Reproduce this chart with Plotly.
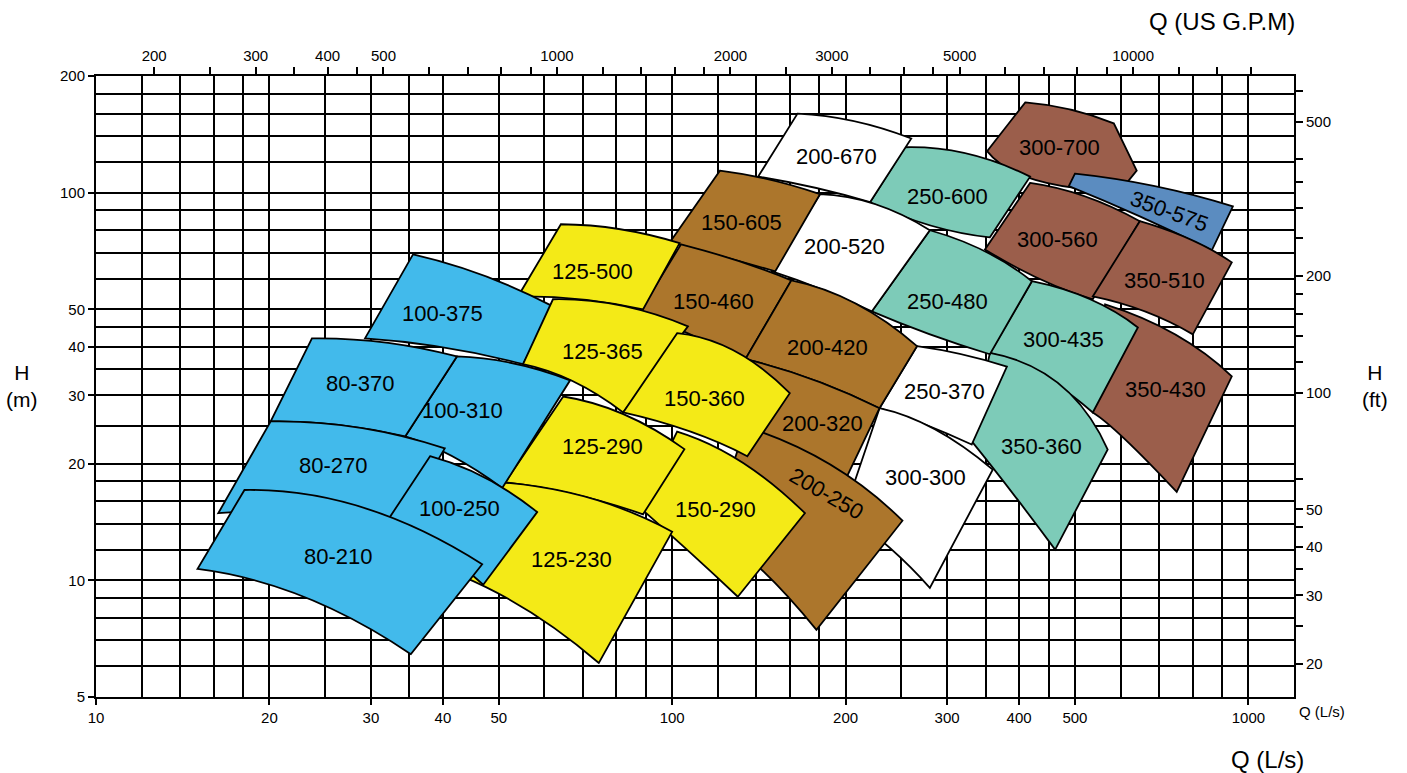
import math
import plotly.graph_objects as go

# ---------------- axis data ----------------
Q_MIN, Q_MAX = 10, 1200          # L/s
H_MIN, H_MAX = 5, 200            # m
LPS_TO_GPM = 15.8503
M_TO_FT = 3.28084

Q_MAJOR = [10, 20, 30, 40, 50, 100, 200, 300, 400, 500, 1000]
Q_MINOR = [12, 14, 16, 18, 25, 35, 60, 70, 80, 90, 120, 140, 160, 180,
           250, 350, 450, 600, 700, 800, 900]
H_MAJOR = [5, 10, 20, 30, 40, 50, 100, 200]
H_MINOR = [6, 7, 8, 9, 12, 14, 16, 18, 25, 35, 45, 60, 70, 80, 90,
           120, 140, 160, 180]
GPM_TICKS = [200, 250, 300, 350, 400, 450, 500, 600, 700, 800, 900, 1000,
             1200, 1400, 1600, 1800, 2000, 2500, 3000, 3500, 4000, 4500, 5000,
             6000, 7000, 8000, 9000, 10000, 12000, 14000, 16000]
GPM_LABELS = [200, 300, 400, 500, 1000, 2000, 3000, 5000, 10000]
FT_TICKS = [20, 25, 30, 35, 40, 45, 50, 60, 100, 120, 140, 160, 180, 200,
            250, 300, 350, 400, 500, 600]
FT_LABELS = [20, 30, 40, 50, 100, 200, 500]

# ---------------- pump ranges (Q in L/s, H in m) ----------------
PUMPS = ["300-700", "300-560", "250-600", "200-670", "350-575", "350-510",
         "350-430", "300-435", "350-360", "250-480", "200-520", "150-605",
         "250-370", "300-300", "150-460", "200-420", "200-320", "200-250",
         "125-500", "100-375", "125-365", "150-360", "150-290", "125-290",
         "125-230", "100-310", "80-370", "80-270", "100-250", "80-210"]

FAMILY = ["rust", "rust", "teal", "white", "steel", "rust",
          "rust", "teal", "teal", "teal", "white", "ochre",
          "white", "white", "ochre", "ochre", "ochre", "ochre",
          "yellow", "sky", "yellow", "yellow", "yellow", "yellow",
          "yellow", "sky", "sky", "sky", "sky", "sky"]

# top curve (largest impeller): left, middle, right
TOP_EDGE = [
    [(410, 171), (490, 164), (584, 151)],
    [(418, 106), (520, 97.9), (648, 84.4)],
    [(253.5, 131), (326, 126), (418, 110)],
    [(165, 160), (207, 153), (260, 138)],
    [(500, 112), (688, 104), (940, 92.2)],
    [(648, 84.4), (792, 75.8), (936, 66.1)],
    [(564, 51.5), (746, 43.1), (936, 33.6)],
    [(421, 59.1), (531, 53.1), (643, 44.9)],
    [(356, 38.6), (471, 32.0), (570, 21.75)],
    [(280, 80.0), (349, 70.6), (421, 59.1)],
    [(180.5, 99.1), (225, 93.4), (280, 80.0)],
    [(121, 114), (148, 108), (180.5, 99.1)],
    [(266, 40.2), (318, 38.3), (381, 35.6)],
    [(229, 27.8), (286, 24.5), (360, 19.3)],
    [(103.6, 73.6), (131, 66.5), (161, 59.4)],
    [(161, 59.4), (208, 51.8), (266, 40.2)],
    [(134, 37.2), (175, 33.0), (229, 27.8)],
    [(134, 24.9), (188, 19.9), (251, 14.25)],
    [(64.1, 82.9), (81.2, 80.5), (103, 74.1)],
    [(35.5, 69.3), (47.0, 61.2), (62.1, 50.9)],
    [(62.1, 53.1), (81.2, 51.2), (106.5, 45.2)],
    [(102, 43.4), (128.5, 39.0), (160, 30.4)],
    [(102, 24.2), (132, 20.2), (170, 14.9)],
    [(64.7, 29.8), (82.5, 26.8), (105, 21.8)],
    [(50.3, 17.9), (72.0, 16.3), (100, 13.35)],
    [(42.3, 37.8), (52.9, 36.3), (66.5, 32.8)],
    [(23.7, 42.1), (31.7, 41.1), (42.3, 37.8)],
    [(20.1, 25.7), (28.5, 24.8), (40.3, 21.9)],
    [(38.0, 20.9), (47.3, 18.4), (58.3, 15.0)],
    [(18.1, 17.1), (29.1, 15.4), (46.8, 11.0)],
]

# extra corners on the right-hand side (only 300-700 has one)
RIGHT_EXTRA = {"300-700": [(640, 114)]}

# bottom curve (smallest impeller): right, middle, left
BOTTOM_EDGE = [
    [(599, 101), (426, 108), (352, 128)],
    [(537, 53.1), (435, 59.8), (349, 71.4)],
    [(356, 76.7), (280, 82.4), (220.5, 94.5)],
    [(220.5, 94.5), (177, 103), (141, 110)],
    [(864, 71.0), (648, 86.9), (488, 104)],
    [(801, 43.1), (661, 49.4), (537, 54.0)],
    [(751, 16.9), (611, 23.1), (537, 27.1)],
    [(537, 27.1), (435, 34.0), (356, 38.6)],
    [(462, 12.0), (386, 17.1), (329, 23.1)],
    [(356, 38.3), (280, 43.1), (222, 49.4)],
    [(222, 49.4), (182, 56.3), (149, 62.7)],
    [(151, 62.7), (122, 68.5), (99.1, 74.5)],
    [(331, 22.4), (275, 25.2), (229, 27.8)],
    [(280, 9.56), (239, 12.1), (199, 15.0)],
    [(134, 37.2), (107.4, 43.1), (87.9, 49.4)],
    [(229, 27.8), (175, 33.0), (134, 37.2)],
    [(201, 18.5), (160, 22.3), (128.5, 25.2)],
    [(178, 7.45), (143, 10.65), (117, 13.5)],
    [(89.0, 50.0), (69.2, 53.1), (54.0, 54.0)],
    [(55.1, 36.1), (40.2, 39.9), (29.3, 42.1)],
    [(82.2, 27.1), (67.3, 32.6), (55.1, 36.1)],
    [(135, 20.9), (107.4, 24.2), (82.2, 27.1)],
    [(130, 9.07), (107.4, 11.8), (87.9, 15.4)],
    [(89.0, 14.8), (67.3, 16.7), (51.3, 17.9)],
    [(74.6, 6.12), (56.7, 8.29), (42.8, 10.3)],
    [(50.7, 17.3), (41.5, 20.9), (34.4, 23.5)],
    [(34.4, 23.5), (26.3, 25.2), (20.1, 25.7)],
    [(33.7, 13.9), (23.5, 15.0), (16.3, 14.9)],
    [(47.0, 9.74), (38.8, 12.1), (31.7, 13.9)],
    [(35.2, 6.45), (23.0, 9.06), (15.0, 10.7)],
]

# label positions (Q, H) and rotation
LABEL_Q = [471, 467, 300, 193, 731, 716, 719, 477, 438, 301, 199, 132,
           297, 275, 118, 186, 182, 185, 72.6, 40.0, 75.6, 114, 119, 75.6,
           67.0, 43.2, 28.8, 25.8, 42.8, 26.4]
LABEL_H = [131, 75.8, 97.9, 124, 89.6, 59.4, 31.1, 41.8, 22.1, 52.4, 72.7, 83.9,
           30.7, 18.4, 52.4, 39.9, 25.4, 16.7, 62.7, 48.8, 39.0, 29.5, 15.2, 22.1,
           11.3, 27.4, 32.2, 19.8, 15.3, 11.5]
LABEL_ANGLE = {"200-250": 30, "350-575": 20}

FAMILY_COLORS = {
    "sky": "#42BAEB",
    "yellow": "#F4EA17",
    "ochre": "#AC762C",
    "white": "#FFFFFF",
    "teal": "#7DCBB8",
    "rust": "#9B5E4B",
    "steel": "#5B8CC0",
}

FONT = "Liberation Sans, Arial, sans-serif"


def bezier_ctrl(p0, m, p2):
    """Control point of a quadratic Bezier (log-log space) passing through m."""
    return tuple(m[i] ** 2 / math.sqrt(p0[i] * p2[i]) for i in range(2))


def pt(p):
    return f"{p[0]:.4f},{p[1]:.4f}"


shapes = []
annotations = []
for name, fam, top, bot, lq, lh in zip(PUMPS, FAMILY, TOP_EDGE, BOTTOM_EDGE,
                                       LABEL_Q, LABEL_H):
    tl, tm, tr = top
    br, bm, bl = bot
    d = f"M {pt(tl)} Q {pt(bezier_ctrl(tl, tm, tr))} {pt(tr)}"
    for p in RIGHT_EXTRA.get(name, []):
        d += f" L {pt(p)}"
    d += f" L {pt(br)} Q {pt(bezier_ctrl(br, bm, bl))} {pt(bl)} Z"
    shapes.append(dict(type="path", path=d, xref="x", yref="y",
                       fillcolor=FAMILY_COLORS[fam],
                       line=dict(color="black", width=1.8), layer="above"))
    annotations.append(dict(x=math.log10(lq), y=math.log10(lh), xref="x", yref="y",
                            text=name, showarrow=False,
                            xanchor="center", yanchor="middle",
                            textangle=LABEL_ANGLE.get(name, 0),
                            font=dict(family=FONT, size=22, color="black")))


def title(x, y, text, size):
    return dict(x=x, y=y, xref="paper", yref="paper", text=text, showarrow=False,
                xanchor="center", yanchor="middle",
                font=dict(family=FONT, size=size, color="black"))


annotations += [
    title(0.94, 1.087, "Q (US G.P.M)", 24),
    title(0.978, -0.101, "Q (L/s)", 24),
    title(1.023, -0.024, "Q (L/s)", 15),
    title(-0.062, 0.501, "H<br>(m)", 21),
    title(1.0676, 0.501, "H<br>(ft)", 21),
]

fig = go.Figure()
# invisible anchors so every axis is drawn
fig.add_trace(go.Scatter(x=[Q_MIN], y=[H_MIN], mode="markers",
                         marker=dict(opacity=0), hoverinfo="skip", showlegend=False))
fig.add_trace(go.Scatter(x=[Q_MIN * LPS_TO_GPM], y=[H_MIN], xaxis="x2", yaxis="y",
                         mode="markers", marker=dict(opacity=0), hoverinfo="skip",
                         showlegend=False))
fig.add_trace(go.Scatter(x=[Q_MIN], y=[H_MIN * M_TO_FT], xaxis="x", yaxis="y2",
                         mode="markers", marker=dict(opacity=0), hoverinfo="skip",
                         showlegend=False))

tickfont = dict(family=FONT, size=15, color="black")
grid = dict(showgrid=True, gridcolor="black", gridwidth=1.8)

fig.update_layout(
    width=1407, height=773,
    margin=dict(l=96, r=113, t=76, b=76, pad=0),
    paper_bgcolor="white", plot_bgcolor="white",
    showlegend=False,
    hovermode=False,
    xaxis=dict(type="log", range=[math.log10(Q_MIN), math.log10(Q_MAX)],
               tickmode="array", tickvals=Q_MAJOR, ticktext=[str(v) for v in Q_MAJOR],
               ticks="outside", ticklen=6, tickwidth=1.5, tickcolor="black",
               minor=dict(tickmode="array", tickvals=Q_MINOR, ticks="",
                          **grid),
               showline=True, linecolor="black", linewidth=2, mirror=True,
               zeroline=False, tickfont=tickfont, **grid),
    yaxis=dict(type="log", range=[math.log10(H_MIN), math.log10(H_MAX)],
               tickmode="array", tickvals=H_MAJOR, ticktext=[str(v) for v in H_MAJOR],
               ticks="outside", ticklen=6, tickwidth=1.5, tickcolor="black",
               minor=dict(tickmode="array", tickvals=H_MINOR, ticks="",
                          **grid),
               showline=True, linecolor="black", linewidth=2, mirror=True,
               zeroline=False, tickfont=tickfont, **grid),
    xaxis2=dict(type="log", overlaying="x", side="top", anchor="y",
                range=[math.log10(Q_MIN * LPS_TO_GPM), math.log10(Q_MAX * LPS_TO_GPM)],
                tickmode="array", tickvals=GPM_TICKS,
                ticktext=[str(v) if v in GPM_LABELS else "" for v in GPM_TICKS],
                ticks="outside", ticklen=8, tickwidth=1.5, tickcolor="black",
                showgrid=False, showline=False, zeroline=False, tickfont=tickfont),
    yaxis2=dict(type="log", overlaying="y", side="right", anchor="x",
                range=[math.log10(H_MIN * M_TO_FT), math.log10(H_MAX * M_TO_FT)],
                tickmode="array", tickvals=FT_TICKS,
                ticktext=[str(v) if v in FT_LABELS else "" for v in FT_TICKS],
                ticks="outside", ticklen=8, tickwidth=1.5, tickcolor="black",
                showgrid=False, showline=False, zeroline=False, tickfont=tickfont),
    shapes=shapes,
    annotations=annotations,
)

# let the 1407x773 figure fill the page exactly (no default body margin)
fig.write_html("out.html",
               config={"displayModeBar": False},
               post_script="document.body.style.margin='0';"
                           "document.body.style.overflow='hidden';")
